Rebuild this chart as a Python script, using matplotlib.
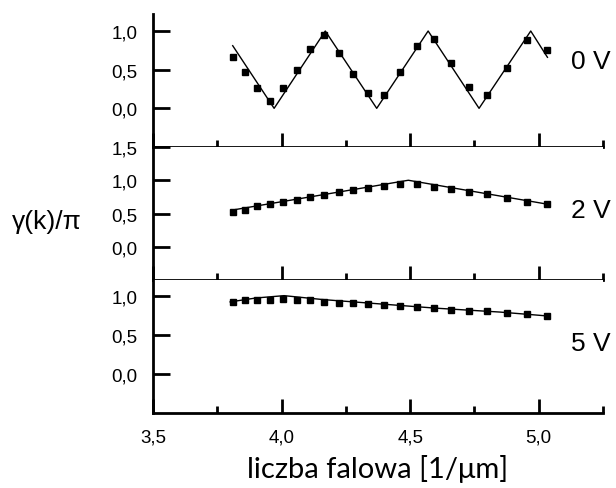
import matplotlib.pyplot as plt
from matplotlib.ticker import FixedLocator, FixedFormatter, MultipleLocator

# wavenumber of measured points [1/um]
k = [3.81, 3.858, 3.906, 3.955, 4.006, 4.059, 4.111, 4.165, 4.222, 4.279, 4.336,
     4.398, 4.462, 4.527, 4.592, 4.659, 4.728, 4.800, 4.876, 4.955, 5.031]

# measured gamma(k)/pi
g_0V = [0.67, 0.47, 0.26, 0.10, 0.26, 0.50, 0.77, 0.95, 0.72, 0.45, 0.20,
        0.17, 0.47, 0.80, 0.90, 0.58, 0.27, 0.17, 0.52, 0.89, 0.75]
g_2V = [0.53, 0.56, 0.61, 0.64, 0.67, 0.71, 0.75, 0.78, 0.83, 0.86, 0.89,
        0.92, 0.94, 0.94, 0.90, 0.87, 0.83, 0.79, 0.74, 0.68, 0.64]
g_5V = [0.92, 0.94, 0.95, 0.95, 0.96, 0.95, 0.94, 0.92, 0.91, 0.91, 0.89,
        0.88, 0.87, 0.86, 0.84, 0.82, 0.80, 0.80, 0.78, 0.76, 0.74]

# model curves
fit_0V_k = [3.81, 3.971, 4.170, 4.370, 4.570, 4.768, 4.969, 5.034]
fit_0V = [0.81, 0.0, 1.0, 0.0, 1.0, 0.0, 1.0, 0.66]
fit_2V_k = [3.806, 4.493, 5.034]
fit_2V = [0.55, 1.0, 0.64]
fit_5V_k = [3.80, 3.90, 4.01, 4.16, 4.40, 4.60, 4.85, 5.035]
fit_5V = [0.92, 0.97, 1.0, 0.95, 0.89, 0.84, 0.79, 0.74]

xticks = [3.5, 4.0, 4.5, 5.0]
xticklabels = ['3,5', '4,0', '4,5', '5,0']
yticks_top = [0.0, 0.5, 1.0]
yticklabels_top = ['0,0', '0,5', '1,0']
yticks_mid = [0.0, 0.5, 1.0, 1.5]
yticklabels_mid = ['0,0', '0,5', '1,0', '1,5']

panels = [
    (g_0V, fit_0V_k, fit_0V, '0 V', (-0.5, 1.22), yticks_top, yticklabels_top, 0.645),
    (g_2V, fit_2V_k, fit_2V, '2 V', (-0.5, 1.5), yticks_mid, yticklabels_mid, 0.525),
    (g_5V, fit_5V_k, fit_5V, '5 V', (-0.5, 1.2), yticks_top, yticklabels_top, 0.525),
]

plt.rcParams['font.family'] = ['Liberation Sans', 'DejaVu Sans']
W, H = 616, 489
fig = plt.figure(figsize=(W / 100, H / 100), dpi=100)

left, right = 153, 603
tops = [15, 148, 281]
ph = 133

for i, (g, fk, fv, lab, ylim, yt, ytl, ty) in enumerate(panels):
    top = tops[i]
    ax = fig.add_axes([left / W, 1 - (top + ph) / H, (right - left) / W, ph / H])
    ax.plot(fk, fv, color='black', lw=1.0)
    ax.plot(k, g, 's', color='black', ms=4)
    ax.set_xlim(3.5, 5.25)
    ax.set_ylim(*ylim)
    ax.spines['top'].set_visible(False)
    ax.spines['right'].set_visible(False)
    ax.spines['left'].set_linewidth(2)
    ax.spines['bottom'].set_linewidth(2)
    ax.xaxis.set_major_locator(FixedLocator(xticks))
    ax.xaxis.set_minor_locator(MultipleLocator(0.25))
    ax.yaxis.set_major_locator(FixedLocator(yt))
    ax.yaxis.set_major_formatter(FixedFormatter(ytl))
    ax.tick_params(axis='x', which='major', direction='in', length=10, width=2)
    ax.tick_params(axis='x', which='minor', direction='in', length=5, width=2)
    ax.tick_params(axis='y', direction='in', length=12, width=2, labelsize=13.5, pad=11)
    if i < 2:
        ax.tick_params(axis='x', labelbottom=False)
    else:
        ax.xaxis.set_major_formatter(FixedFormatter(xticklabels))
        ax.tick_params(axis='x', labelsize=13.5, pad=11.5)
        ax.set_xlabel('liczba falowa [1/\u03bcm]', fontsize=21,
                      family=['Lato', 'DejaVu Sans'], labelpad=6)
    ax.text(0.928, ty, lab, transform=ax.transAxes, fontsize=19, ha='left', va='center',
            clip_on=False)

fig.text(12 / W, 1 - 222 / H, '\u03b3(k)/\u03c0', fontsize=19, ha='left', va='center')

fig.savefig('out.png', dpi=100)
